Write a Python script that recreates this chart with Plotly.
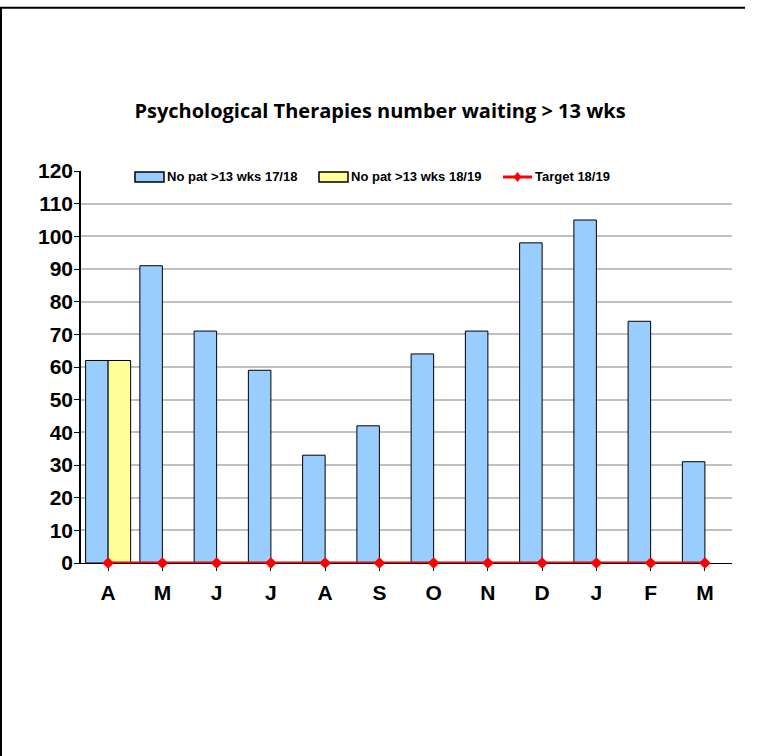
import plotly.graph_objects as go

# Monthly counts of patients waiting more than 13 weeks
months = ["A", "M", "J", "J", "A", "S", "O", "N", "D", "J", "F", "M"]
waiting_1718 = [62, 91, 71, 59, 33, 42, 64, 71, 98, 105, 74, 31]
waiting_1819 = [62, None, None, None, None, None, None, None, None, None, None, None]
target_1819 = [0, 0, 0, 0, 0, 0, 0, 0, 0, 0, 0, 0]
y_ticks = list(range(0, 121, 10))

series_names = ["No pat >13 wks 17/18", "No pat >13 wks 18/19", "Target 18/19"]
BLUE = "#99ccff"
YELLOW = "#ffff99"
RED = "#ff0000"

SANS = "Liberation Sans, Arial, sans-serif"

W, H = 760, 756
ML, MR, MT, MB = 81, 28, 171, 193
PW = W - ML - MR
PH = H - MT - MB
x_idx = list(range(len(months)))


def px_x(px):
    return (px - ML) / PW


def px_y(py):
    return (H - MB - py) / PH


fig = go.Figure()

fig.add_trace(go.Bar(
    x=x_idx, y=waiting_1718, name=series_names[0],
    marker=dict(color=BLUE, line=dict(color="black", width=1)),
    showlegend=False,
))
fig.add_trace(go.Bar(
    x=x_idx, y=waiting_1819, name=series_names[1],
    marker=dict(color=YELLOW, line=dict(color="black", width=1)),
    showlegend=False,
))
fig.add_trace(go.Scatter(
    x=x_idx, y=target_1819, name=series_names[2], mode="lines+markers",
    line=dict(color=RED, width=3),
    marker=dict(symbol="diamond", size=9, color=RED),
    cliponaxis=False, showlegend=False,
))

shapes = []
annotations = []

# Outer frame (top and left edges)
shapes.append(dict(type="line", xref="paper", yref="paper",
                   x0=px_x(0), x1=px_x(745), y0=px_y(7.7), y1=px_y(7.7),
                   line=dict(color="black", width=2)))
shapes.append(dict(type="line", xref="paper", yref="paper",
                   x0=px_x(1), x1=px_x(1), y0=px_y(7.7), y1=px_y(H),
                   line=dict(color="black", width=2)))

# Legend row
leg_y = 177
leg_x = [135, 319, 503]
for i, color in enumerate([BLUE, YELLOW]):
    shapes.append(dict(type="rect", xref="paper", yref="paper",
                       x0=px_x(leg_x[i]), x1=px_x(leg_x[i] + 29),
                       y0=px_y(leg_y - 5), y1=px_y(leg_y + 5),
                       fillcolor=color, line=dict(color="black", width=1.5)))
shapes.append(dict(type="line", xref="paper", yref="paper",
                   x0=px_x(leg_x[2]), x1=px_x(leg_x[2] + 29),
                   y0=px_y(leg_y), y1=px_y(leg_y),
                   line=dict(color=RED, width=3)))
cx = leg_x[2] + 14.5
shapes.append(dict(type="path", xref="paper", yref="paper",
                   path=f"M {px_x(cx - 4)},{px_y(leg_y)} L {px_x(cx)},{px_y(leg_y - 5)} "
                        f"L {px_x(cx + 4)},{px_y(leg_y)} L {px_x(cx)},{px_y(leg_y + 5)} Z",
                   fillcolor=RED, line=dict(color=RED, width=0)))
for i, name in enumerate(series_names):
    annotations.append(dict(xref="paper", yref="paper",
                            x=px_x(leg_x[i] + 30), y=px_y(leg_y),
                            xanchor="left", yanchor="middle", showarrow=False,
                            text=f"<b>{name}</b>",
                            font=dict(family=SANS, size=13, color="black")))

fig.update_layout(
    width=W, height=H,
    margin=dict(l=ML, r=MR, t=MT, b=MB, pad=0),
    paper_bgcolor="white", plot_bgcolor="white",
    barmode="group", bargap=0.17, bargroupgap=0,
    title=dict(text="<b>Psychological Therapies number waiting > 13 wks</b>",
               xref="container", yref="container", x=0.5, y=1 - 111 / H,
               xanchor="center", yanchor="middle",
               font=dict(family="Open Sans, sans-serif", size=20, color="black")),
    shapes=shapes, annotations=annotations,
    showlegend=False,
)

fig.update_xaxes(
    tickmode="array", tickvals=x_idx, ticktext=[f"<b>{m}</b>" for m in months],
    range=[-0.5, len(months) - 0.5],
    tickson="boundaries", ticks="outside", ticklen=7, tickcolor="black", tickwidth=1,
    showline=True, linecolor="black", linewidth=1,
    showgrid=False, zeroline=False, layer="below traces",
    ticklabelstandoff=4,
    tickfont=dict(family=SANS, size=21, color="black"),
)
fig.update_yaxes(
    range=[0, 120], tickmode="array", tickvals=y_ticks,
    ticktext=[f"<b>{v}</b>" for v in y_ticks],
    ticks="outside", ticklen=5, tickcolor="black", tickwidth=1,
    showline=True, linecolor="black", linewidth=1.5,
    showgrid=True, gridcolor="#c0c0c0", gridwidth=1.5,
    zeroline=False, layer="below traces",
    ticklabelstandoff=-3,
    tickfont=dict(family=SANS, size=21, color="black"),
)

fig.write_html("out.html")
